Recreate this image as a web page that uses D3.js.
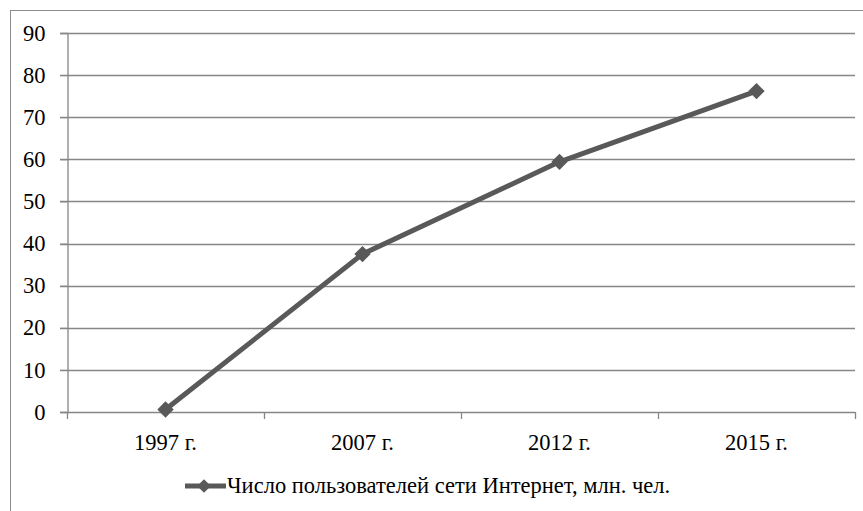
<!DOCTYPE html>
<html lang="ru">
<head>
<meta charset="UTF-8">
<title>Число пользователей сети Интернет</title>
<style>
    body { margin: 0; background: #fff; }
</style>
</head>
<body>
<div id="chart"></div>
<script src="https://d3js.org/d3.v7.min.js"></script>
<script>
    // data
    const years = ["1997 г.", "2007 г.", "2012 г.", "2015 г."];
    const users = [0.6, 37.5, 59.4, 76.2];
    const yTicks = [0, 10, 20, 30, 40, 50, 60, 70, 80, 90];
    const seriesName = "Число пользователей сети Интернет, млн. чел.";

    const W = 863, H = 511;
    const plot = { left: 67, right: 855, top: 33, bottom: 412 };
    const fontSize = 22.5;
    const serif = "'Liberation Serif', 'Times New Roman', serif";

    const svg = d3.select("#chart").append("svg")
        .attr("width", W)
        .attr("height", H);

    // outer frame (cut by the picture on right and bottom)
    svg.append("rect")
        .attr("x", 10.5).attr("y", 10.5)
        .attr("width", W).attr("height", H)
        .attr("fill", "none")
        .attr("stroke", "#8c8c8c")
        .attr("stroke-width", 1);

    const x = d3.scaleBand().domain(years).range([plot.left, plot.right]);
    const y = d3.scaleLinear().domain([0, 90]).range([plot.bottom, plot.top]);

    // horizontal grid
    svg.append("g")
        .selectAll("line")
        .data(yTicks)
        .join("line")
        .attr("x1", plot.left - 7)
        .attr("x2", plot.right)
        .attr("y1", d => Math.round(y(d)) + 0.5)
        .attr("y2", d => Math.round(y(d)) + 0.5)
        .attr("stroke", "#868686")
        .attr("stroke-width", 1.3);

    // y axis
    const yAxis = svg.append("g")
        .attr("transform", `translate(${plot.left + 0.5},0)`)
        .call(d3.axisLeft(y).tickValues(yTicks).tickSize(7).tickPadding(15));
    yAxis.select(".domain").attr("stroke", "#868686").attr("stroke-width", 1.3);
    yAxis.selectAll(".tick line").attr("stroke", "#868686");
    yAxis.attr("font-family", null).attr("font-size", null);
    yAxis.selectAll("text")
        .style("font-family", serif)
        .style("font-size", fontSize + "px")
        .attr("fill", "#000");

    // x axis
    const xAxis = svg.append("g")
        .attr("transform", `translate(0,${Math.round(y(0)) + 0.5})`)
        .call(d3.axisBottom(x).tickSize(0).tickPadding(22));
    xAxis.select(".domain").remove();
    xAxis.attr("font-family", null).attr("font-size", null);
    xAxis.selectAll("text")
        .style("font-family", serif)
        .style("font-size", fontSize + "px")
        .attr("fill", "#000");

    // category boundary ticks
    const bounds = years.map(d => x(d)).concat([x(years[years.length - 1]) + x.bandwidth()]);
    svg.append("g")
        .selectAll("line")
        .data(bounds)
        .join("line")
        .attr("x1", d => Math.round(d) + 0.5)
        .attr("x2", d => Math.round(d) + 0.5)
        .attr("y1", y(0))
        .attr("y2", y(0) + 7)
        .attr("stroke", "#868686")
        .attr("stroke-width", 1.3);

    const lineColor = "#595959";
    const cx = d => x(d) + x.bandwidth() / 2;
    const pts = years.map((d, i) => [cx(d), y(users[i])]);

    svg.append("path")
        .attr("d", d3.line()(pts))
        .attr("fill", "none")
        .attr("stroke", lineColor)
        .attr("stroke-width", 5)
        .attr("stroke-linejoin", "round");

    const diamond = d3.symbol().type(d3.symbolDiamond2).size(170);
    svg.append("g")
        .selectAll("path")
        .data(pts)
        .join("path")
        .attr("transform", d => `translate(${d[0]},${d[1]})`)
        .attr("d", diamond)
        .attr("fill", lineColor);

    // legend
    const legend = svg.append("g").attr("transform", "translate(185,486)");
    legend.append("line")
        .attr("x1", 0).attr("x2", 41)
        .attr("y1", 0).attr("y2", 0)
        .attr("stroke", lineColor)
        .attr("stroke-width", 5);
    legend.append("path")
        .attr("transform", "translate(19,0)")
        .attr("d", d3.symbol().type(d3.symbolDiamond2).size(120))
        .attr("fill", lineColor);
    legend.append("text")
        .attr("x", 42)
        .attr("y", 7)
        .style("font-family", serif)
        .style("font-size", fontSize + "px")
        .attr("fill", "#000")
        .text(seriesName);
</script>
</body>
</html>
